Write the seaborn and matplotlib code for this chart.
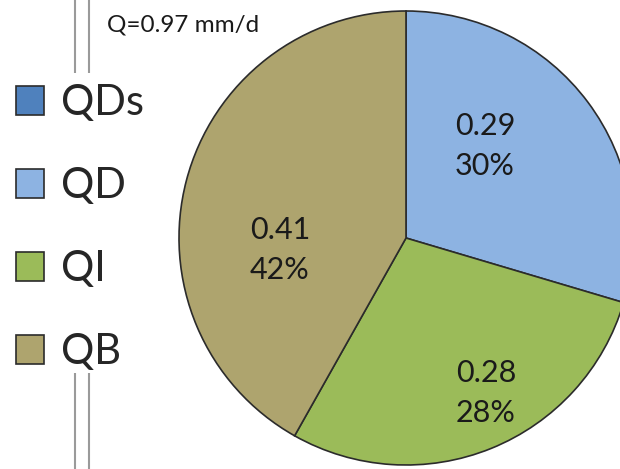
import matplotlib
matplotlib.use("Agg")
import matplotlib.pyplot as plt
import seaborn as sns

# Runoff components (mm/d) and their shares
components = ["QDs", "QD", "QI", "QB"]
flows = [0.0, 0.29, 0.28, 0.41]
shares = ["0%", "30%", "28%", "42%"]
total_label = "Q=0.97 mm/d"

sns.set_theme(style="white")
plt.rcParams["font.family"] = ["Lato", "DejaVu Sans"]

palette = sns.color_palette(["#4F81BD", "#8DB3E2", "#9BBB59", "#AEA46E"])

W, H = 620, 469
fig = plt.figure(figsize=(W / 100, H / 100), dpi=100)
ax = fig.add_axes([0, 0, 1, 1])

cx, cy, r = 406, H - 238, 227
wedges, _ = ax.pie(
    flows,
    colors=palette,
    startangle=90,
    counterclock=False,
    center=(cx, cy),
    radius=r,
    wedgeprops=dict(edgecolor="#2b2b2b", linewidth=1.2),
    frame=True,
)
ax.set_xlim(0, W)
ax.set_ylim(0, H)
ax.set_aspect("equal")
ax.axis("off")

# data labels (value and share) inside each wedge
label_pos = {1: (485, 146), 2: (486, 393), 3: (280, 250)}
for i, (px, py) in label_pos.items():
    ax.text(px, H - py, f"{flows[i]:.2f}\n{shares[i]}", ha="center", va="center",
            fontsize=22, color="#1a1a1a", linespacing=1.55)

ax.text(107, H - 25, total_label, ha="left", va="center", fontsize=17.5, color="#1a1a1a")

# double rules above and below the legend
for x in (75, 89):
    ax.plot([x, x], [H, H - 73], color="#9a9a9a", lw=1.5, solid_capstyle="butt")
    ax.plot([x, x], [H - 373, 0], color="#9a9a9a", lw=1.5, solid_capstyle="butt")

leg = ax.legend(
    wedges, components,
    loc="upper left", bbox_to_anchor=(16 / W, 1 - 84 / H),
    frameon=False, fontsize=30,
    handlelength=0.67, handleheight=0.67, handletextpad=0.4,
    labelspacing=1.08, borderaxespad=0, borderpad=0,
)
for h in leg.legend_handles:
    h.set_edgecolor("#2b2b2b")
    h.set_linewidth(1.2)

fig.savefig("out.png", dpi=100)
